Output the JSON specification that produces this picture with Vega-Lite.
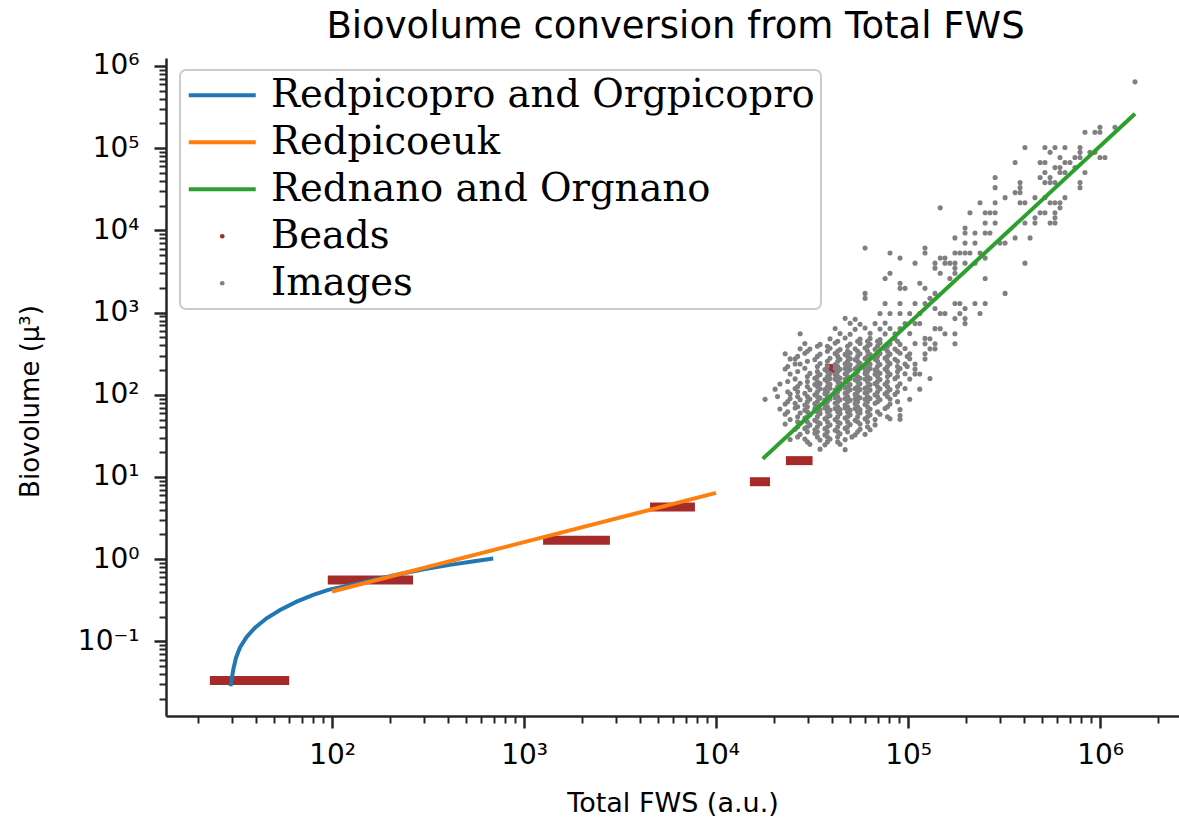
{
"$schema": "https://vega.github.io/schema/vega-lite/v6.json",
"width": 1013,
"height": 658,
"autosize": "none",
"padding": {"left": 166, "top": 58, "right": 0, "bottom": 112},
"background": "white",
"title": {"text": "Biovolume conversion from Total FWS", "font": "DejaVu Sans", "fontSize": 37, "fontWeight": "normal", "color": "#000000", "anchor": "middle", "offset": 16, "baseline": "alphabetic", "dx": 3, "dy": 39},
"config": {
 "view": {"stroke": null},
 "axis": {"domainColor": "#262626", "domainWidth": 2.5, "tickColor": "#262626", "labelFont": "DejaVu Sans", "labelFontSize": 28, "labelColor": "#000000", "titleFont": "DejaVu Sans", "titleFontSize": 26, "titleFontWeight": "normal", "titleColor": "#000000", "grid": false, "labelOverlap": false, "labelFlush": false, "labelBound": false}
},
"datasets": {
 "lines": [
  {"s":"Redpicopro and Orgpicopro","x":29.6,"y":0.0284},
  {"s":"Redpicopro and Orgpicopro","x":30.6,"y":0.0456},
  {"s":"Redpicopro and Orgpicopro","x":31.6,"y":0.0632},
  {"s":"Redpicopro and Orgpicopro","x":33.1,"y":0.0838},
  {"s":"Redpicopro and Orgpicopro","x":35.9,"y":0.1133},
  {"s":"Redpicopro and Orgpicopro","x":39.7,"y":0.1466},
  {"s":"Redpicopro and Orgpicopro","x":45.6,"y":0.191},
  {"s":"Redpicopro and Orgpicopro","x":53.6,"y":0.241},
  {"s":"Redpicopro and Orgpicopro","x":65.4,"y":0.304},
  {"s":"Redpicopro and Orgpicopro","x":79.8,"y":0.367},
  {"s":"Redpicopro and Orgpicopro","x":95.6,"y":0.423},
  {"s":"Redpicopro and Orgpicopro","x":140,"y":0.515},
  {"s":"Redpicopro and Orgpicopro","x":226,"y":0.661},
  {"s":"Redpicopro and Orgpicopro","x":300,"y":0.751},
  {"s":"Redpicopro and Orgpicopro","x":411,"y":0.852},
  {"s":"Redpicopro and Orgpicopro","x":550,"y":0.945},
  {"s":"Redpicopro and Orgpicopro","x":691,"y":1.018},
  {"s":"Redpicoeuk","x":100,"y":0.404},
  {"s":"Redpicoeuk","x":10000,"y":6.41},
  {"s":"Rednano and Orgnano","x":17500,"y":16.6},
  {"s":"Rednano and Orgnano","x":1520000,"y":262000}
 ],
 "beads": [
  {"x":23.1,"x2":59.8,"y":0.0334},
  {"x":95,"x2":264,"y":0.558},
  {"x":1256,"x2":2800,"y":1.70},
  {"x":4530,"x2":7760,"y":4.32},
  {"x":15000,"x2":19100,"y":8.75},
  {"x":23100,"x2":31800,"y":15.8},
  {"x":36900,"x2":42400,"y":209}
 ],
 "img": [
  {"x":47000,"y":850},{"x":53000,"y":830},
  {"x":49900,"y":740},{"x":56200,"y":720},{"x":75900,"y":745},
  {"x":41700,"y":640},{"x":53000,"y":625},{"x":59700,"y":650},{"x":71400,"y":630},{"x":80500,"y":640},
  {"x":44200,"y":555},{"x":49900,"y":545},{"x":63400,"y":560},{"x":75900,"y":550},{"x":102000,"y":555},
  {"x":39200,"y":480},{"x":47000,"y":490},{"x":56200,"y":475},{"x":63400,"y":485},{"x":71400,"y":470},{"x":85500,"y":480},{"x":122500,"y":485},
  {"x":29000,"y":420},{"x":34800,"y":410},{"x":41700,"y":425},{"x":49900,"y":415},{"x":56200,"y":420},{"x":63400,"y":412},{"x":71400,"y":425},{"x":80500,"y":418},{"x":90800,"y":410},{"x":108700,"y":420},
  {"x":30800,"y":360},{"x":39200,"y":368},{"x":44200,"y":355},{"x":53000,"y":362},{"x":59700,"y":370},{"x":67300,"y":358},{"x":75900,"y":365},{"x":85500,"y":360},{"x":96400,"y":366},{"x":130000,"y":362},
  {"x":22900,"y":315},{"x":29000,"y":320},{"x":34800,"y":312},{"x":41700,"y":318},{"x":47000,"y":310},{"x":49900,"y":322},{"x":56200,"y":315},{"x":63400,"y":308},{"x":71400,"y":318},{"x":80500,"y":312},{"x":90800,"y":320},
  {"x":25800,"y":273},{"x":32700,"y":268},{"x":39200,"y":278},{"x":44200,"y":270},{"x":49900,"y":275},{"x":53000,"y":268},{"x":59700,"y":276},{"x":67300,"y":271},{"x":75900,"y":279},{"x":85500,"y":270},{"x":102000,"y":274},{"x":122500,"y":272},
  {"x":27400,"y":237},{"x":34800,"y":240},{"x":41700,"y":233},{"x":47000,"y":238},{"x":49900,"y":232},{"x":56200,"y":241},{"x":63400,"y":236},{"x":71400,"y":233},{"x":80500,"y":239},{"x":96400,"y":236},
  {"x":22900,"y":206},{"x":29000,"y":210},{"x":36900,"y":203},{"x":41700,"y":208},{"x":44200,"y":204},{"x":47000,"y":209},{"x":49900,"y":202},{"x":53000,"y":207},{"x":56200,"y":211},{"x":59700,"y":204},{"x":63400,"y":208},{"x":67300,"y":201},{"x":75900,"y":206},{"x":90800,"y":209},{"x":108700,"y":205},
  {"x":24300,"y":179},{"x":30800,"y":182},{"x":34800,"y":176},{"x":39200,"y":181},{"x":41700,"y":177},{"x":47000,"y":180},{"x":53000,"y":175},{"x":59700,"y":182},{"x":67300,"y":178},{"x":71400,"y":183},{"x":80500,"y":177},{"x":96400,"y":180},
  {"x":25800,"y":156},{"x":32700,"y":159},{"x":36900,"y":153},{"x":39200,"y":158},{"x":41700,"y":155},{"x":44200,"y":160},{"x":47000,"y":154},{"x":49900,"y":157},{"x":53000,"y":152},{"x":56200,"y":159},{"x":59700,"y":155},{"x":63400,"y":158},{"x":71400,"y":153},{"x":85500,"y":157},{"x":102000,"y":155},{"x":130000,"y":158},
  {"x":21500,"y":135},{"x":27400,"y":138},{"x":32700,"y":133},{"x":34800,"y":137},{"x":39200,"y":134},{"x":44200,"y":139},{"x":49900,"y":133},{"x":56200,"y":136},{"x":63400,"y":132},{"x":67300,"y":137},{"x":75900,"y":134},{"x":90800,"y":136},
  {"x":20300,"y":117},{"x":25800,"y":119},{"x":30800,"y":115},{"x":34800,"y":118},{"x":36900,"y":116},{"x":39200,"y":120},{"x":41700,"y":114},{"x":44200,"y":118},{"x":47000,"y":121},{"x":49900,"y":115},{"x":53000,"y":119},{"x":56200,"y":116},{"x":59700,"y":120},{"x":63400,"y":114},{"x":71400,"y":118},{"x":80500,"y":116},{"x":96400,"y":119},{"x":115000,"y":117},
  {"x":24300,"y":102},{"x":29000,"y":104},{"x":32700,"y":100},{"x":36900,"y":103},{"x":41700,"y":99},{"x":47000,"y":104},{"x":53000,"y":101},{"x":59700,"y":105},{"x":67300,"y":100},{"x":75900,"y":103},{"x":85500,"y":101},
  {"x":18000,"y":88},{"x":24300,"y":90},{"x":27400,"y":87},{"x":30800,"y":89},{"x":34800,"y":91},{"x":36900,"y":86},{"x":39200,"y":89},{"x":41700,"y":92},{"x":44200,"y":87},{"x":47000,"y":90},{"x":49900,"y":86},{"x":53000,"y":89},{"x":56200,"y":92},{"x":59700,"y":88},{"x":63400,"y":90},{"x":71400,"y":87},{"x":80500,"y":89},{"x":102000,"y":88},
  {"x":22900,"y":77},{"x":25800,"y":79},{"x":29000,"y":75},{"x":32700,"y":78},{"x":36900,"y":76},{"x":41700,"y":79},{"x":47000,"y":75},{"x":53000,"y":78},{"x":59700,"y":76},{"x":67300,"y":79},{"x":80500,"y":77},
  {"x":21500,"y":67},{"x":25800,"y":69},{"x":29000,"y":65},{"x":32700,"y":68},{"x":34800,"y":66},{"x":36900,"y":69},{"x":39200,"y":65},{"x":41700,"y":68},{"x":44200,"y":66},{"x":47000,"y":69},{"x":49900,"y":65},{"x":53000,"y":68},{"x":56200,"y":66},{"x":63400,"y":67},{"x":75900,"y":68},{"x":90800,"y":66},
  {"x":22900,"y":58},{"x":27400,"y":60},{"x":30800,"y":57},{"x":34800,"y":59},{"x":39200,"y":56},{"x":44200,"y":59},{"x":49900,"y":57},{"x":56200,"y":60},{"x":63400,"y":57},{"x":71400,"y":58},{"x":90800,"y":56},
  {"x":24300,"y":50},{"x":29000,"y":52},{"x":32700,"y":49},{"x":36900,"y":51},{"x":41700,"y":50},{"x":47000,"y":52},{"x":53000,"y":49},{"x":59700,"y":51},{"x":67300,"y":50},{"x":80500,"y":51},
  {"x":22900,"y":44},{"x":27400,"y":45},{"x":30800,"y":43},{"x":34800,"y":44.5},{"x":39200,"y":43},{"x":44200,"y":45},{"x":49900,"y":43.5},{"x":56200,"y":44},{"x":67300,"y":43},
  {"x":25800,"y":38},{"x":29000,"y":39},{"x":32700,"y":37.5},{"x":36900,"y":38.5},{"x":41700,"y":37},{"x":47000,"y":39},{"x":56200,"y":38},{"x":63400,"y":37.5},
  {"x":27400,"y":33},{"x":32700,"y":34},{"x":36900,"y":32.5},{"x":44200,"y":33.5},{"x":53000,"y":32.5},{"x":59700,"y":33},
  {"x":24300,"y":28.6},{"x":29000,"y":29},{"x":34800,"y":28.2},{"x":39200,"y":29},{"x":47000,"y":28.5},
  {"x":30800,"y":25},{"x":36900,"y":24.6},{"x":44200,"y":25},
  {"x":34800,"y":21.8},{"x":47000,"y":21.5},
  {"x":27400,"y":553},{"x":27400,"y":362},{"x":24300,"y":273},{"x":25800,"y":237},
  {"x":43000,"y":448},{"x":54600,"y":448},{"x":61500,"y":448},{"x":69300,"y":448},{"x":88100,"y":448},
  {"x":33700,"y":389},{"x":38000,"y":389},{"x":48400,"y":389},{"x":61500,"y":389},{"x":69300,"y":389},{"x":78100,"y":389},
  {"x":29900,"y":338},{"x":38000,"y":338},{"x":43000,"y":338},{"x":48400,"y":338},{"x":54600,"y":338},{"x":61500,"y":338},{"x":78100,"y":338},{"x":88100,"y":338},
  {"x":26600,"y":293},{"x":33700,"y":293},{"x":43000,"y":293},{"x":48400,"y":293},{"x":54600,"y":293},{"x":61500,"y":293},{"x":69300,"y":293},{"x":78100,"y":293},{"x":99000,"y":293},
  {"x":29900,"y":255},{"x":38000,"y":255},{"x":43000,"y":255},{"x":48400,"y":255},{"x":54600,"y":255},{"x":61500,"y":255},{"x":69300,"y":255},{"x":78100,"y":255},{"x":88100,"y":255},
  {"x":23600,"y":221},{"x":33700,"y":221},{"x":38000,"y":221},{"x":43000,"y":221},{"x":48400,"y":221},{"x":54600,"y":221},{"x":61500,"y":221},{"x":69300,"y":221},{"x":78100,"y":221},{"x":88100,"y":221},{"x":99000,"y":221},
  {"x":26600,"y":192},{"x":33700,"y":192},{"x":38000,"y":192},{"x":43000,"y":192},{"x":48400,"y":192},{"x":54600,"y":192},{"x":61500,"y":192},{"x":69300,"y":192},{"x":78100,"y":192},{"x":88100,"y":192},
  {"x":29900,"y":167},{"x":33700,"y":167},{"x":38000,"y":167},{"x":43000,"y":167},{"x":48400,"y":167},{"x":54600,"y":167},{"x":61500,"y":167},{"x":69300,"y":167},{"x":78100,"y":167},{"x":88100,"y":167},
  {"x":23600,"y":145},{"x":29900,"y":145},{"x":33700,"y":145},{"x":38000,"y":145},{"x":43000,"y":145},{"x":48400,"y":145},{"x":54600,"y":145},{"x":61500,"y":145},{"x":69300,"y":145},{"x":78100,"y":145},
  {"x":26600,"y":126},{"x":29900,"y":126},{"x":33700,"y":126},{"x":38000,"y":126},{"x":43000,"y":126},{"x":48400,"y":126},{"x":54600,"y":126},{"x":61500,"y":126},{"x":69300,"y":126},{"x":78100,"y":126},{"x":88100,"y":126},
  {"x":23600,"y":109},{"x":26600,"y":109},{"x":33700,"y":109},{"x":38000,"y":109},{"x":43000,"y":109},{"x":48400,"y":109},{"x":54600,"y":109},{"x":61500,"y":109},{"x":69300,"y":109},{"x":78100,"y":109},{"x":88100,"y":109},
  {"x":20900,"y":95},{"x":26600,"y":95},{"x":29900,"y":95},{"x":33700,"y":95},{"x":38000,"y":95},{"x":43000,"y":95},{"x":48400,"y":95},{"x":54600,"y":95},{"x":61500,"y":95},{"x":69300,"y":95},{"x":78100,"y":95},
  {"x":23600,"y":82.5},{"x":29900,"y":82.5},{"x":33700,"y":82.5},{"x":38000,"y":82.5},{"x":43000,"y":82.5},{"x":48400,"y":82.5},{"x":54600,"y":82.5},{"x":61500,"y":82.5},{"x":69300,"y":82.5},{"x":88100,"y":82.5},
  {"x":26600,"y":71.5},{"x":29900,"y":71.5},{"x":33700,"y":71.5},{"x":38000,"y":71.5},{"x":43000,"y":71.5},{"x":48400,"y":71.5},{"x":54600,"y":71.5},{"x":61500,"y":71.5},{"x":78100,"y":71.5},
  {"x":23600,"y":62},{"x":29900,"y":62},{"x":33700,"y":62},{"x":38000,"y":62},{"x":43000,"y":62},{"x":48400,"y":62},{"x":54600,"y":62},{"x":61500,"y":62},{"x":69300,"y":62},
  {"x":26600,"y":54},{"x":29900,"y":54},{"x":33700,"y":54},{"x":38000,"y":54},{"x":43000,"y":54},{"x":48400,"y":54},{"x":54600,"y":54},{"x":61500,"y":54},{"x":78100,"y":54},
  {"x":26600,"y":47},{"x":29900,"y":47},{"x":33700,"y":47},{"x":38000,"y":47},{"x":43000,"y":47},{"x":48400,"y":47},{"x":54600,"y":47},{"x":61500,"y":47},
  {"x":26600,"y":40.7},{"x":29900,"y":40.7},{"x":33700,"y":40.7},{"x":38000,"y":40.7},{"x":43000,"y":40.7},{"x":48400,"y":40.7},{"x":61500,"y":40.7},
  {"x":29900,"y":35.4},{"x":33700,"y":35.4},{"x":38000,"y":35.4},{"x":43000,"y":35.4},{"x":48400,"y":35.4},{"x":54600,"y":35.4},
  {"x":26600,"y":30.7},{"x":33700,"y":30.7},{"x":38000,"y":30.7},{"x":43000,"y":30.7},{"x":51000,"y":30.7},
  {"x":29900,"y":26.7},{"x":38000,"y":26.7},{"x":43000,"y":26.7},
  {"x":1520000,"y":641000},
  {"x":998000,"y":180000},{"x":998000,"y":156000},{"x":834000,"y":156000},{"x":940000,"y":156000},{"x":1195000,"y":180000},
  {"x":406000,"y":102000},{"x":516000,"y":102000},{"x":582000,"y":102000},{"x":656000,"y":102000},{"x":786000,"y":102000},{"x":786000,"y":89000},
  {"x":549000,"y":89000},{"x":618000,"y":77000},{"x":656000,"y":67000},{"x":697000,"y":67000},{"x":618000,"y":58000},{"x":582000,"y":58000},{"x":656000,"y":50600},{"x":740000,"y":77000},{"x":786000,"y":77000},{"x":740000,"y":58000},
  {"x":885000,"y":89000},{"x":940000,"y":89000},{"x":1060000,"y":77000},{"x":998000,"y":77000},
  {"x":361000,"y":67000},{"x":487000,"y":67000},{"x":516000,"y":67000},
  {"x":834000,"y":50600},
  {"x":516000,"y":50600},{"x":549000,"y":44000},{"x":618000,"y":50600},{"x":582000,"y":38100},{"x":549000,"y":38100},{"x":516000,"y":38100},{"x":487000,"y":44000},
  {"x":284000,"y":44000},{"x":284000,"y":33100},{"x":383000,"y":38100},{"x":383000,"y":33100},{"x":786000,"y":38100},{"x":786000,"y":33100},
  {"x":361000,"y":28800},{"x":320000,"y":25000},{"x":383000,"y":28800},{"x":383000,"y":21700},{"x":406000,"y":21700},
  {"x":237000,"y":21700},{"x":284000,"y":21700},
  {"x":516000,"y":25000},{"x":549000,"y":21700},{"x":582000,"y":21700},{"x":618000,"y":21700},{"x":458000,"y":25000},{"x":656000,"y":25000},
  {"x":487000,"y":16400},{"x":516000,"y":16400},{"x":458000,"y":14200},{"x":582000,"y":16400},{"x":582000,"y":14200},{"x":549000,"y":12300},{"x":618000,"y":18800},{"x":458000,"y":12300},{"x":582000,"y":12300},
  {"x":267000,"y":16400},{"x":284000,"y":12300},{"x":252000,"y":9300},{"x":267000,"y":9300},{"x":210000,"y":16400},{"x":284000,"y":16400},
  {"x":406000,"y":12300},{"x":361000,"y":8100},{"x":432000,"y":8100},{"x":406000,"y":3990},{"x":320000,"y":7000},{"x":301000,"y":7000},
  {"x":252000,"y":16400},{"x":252000,"y":12300},{"x":223000,"y":9300},{"x":198000,"y":10700},{"x":198000,"y":9300},
  {"x":223000,"y":7000},{"x":198000,"y":7000},{"x":175400,"y":8100},{"x":175400,"y":5300},{"x":198000,"y":5300},
  {"x":252000,"y":4600},{"x":252000,"y":2600},{"x":223000,"y":3990},{"x":210000,"y":5300},{"x":237000,"y":5300},{"x":198000,"y":3990},{"x":186000,"y":5300},
  {"x":147000,"y":4600},{"x":155600,"y":4600},{"x":155600,"y":3990},{"x":165000,"y":3990},{"x":175400,"y":3990},{"x":175400,"y":3470},{"x":175400,"y":3010},{"x":165000,"y":2600},{"x":147000,"y":3010},{"x":138100,"y":3470},{"x":138100,"y":3990},
  {"x":122500,"y":6100},{"x":122500,"y":5300},{"x":108700,"y":3990},{"x":90800,"y":4600},{"x":80500,"y":5300},{"x":80500,"y":3010},{"x":75900,"y":2600},{"x":59700,"y":6100},{"x":147000,"y":18800},
  {"x":115000,"y":2270},{"x":122500,"y":1970},{"x":138100,"y":1710},{"x":130000,"y":1490},{"x":122500,"y":1290},{"x":138100,"y":1120},{"x":147000,"y":973},{"x":155600,"y":973},{"x":175400,"y":1290},{"x":186000,"y":1290},{"x":198000,"y":1120},{"x":186000,"y":973},{"x":175400,"y":845},{"x":198000,"y":845},{"x":198000,"y":734},{"x":223000,"y":1290},{"x":252000,"y":1290},{"x":237000,"y":973},{"x":175400,"y":553},{"x":175400,"y":418},
  {"x":320000,"y":1710},
  {"x":90800,"y":2270},{"x":90800,"y":1970},{"x":96400,"y":1970},
  {"x":59700,"y":1710},{"x":59700,"y":1490},
  {"x":75900,"y":1290},{"x":90800,"y":1290},{"x":108700,"y":1290},{"x":115000,"y":973},{"x":108700,"y":734},{"x":96400,"y":734},{"x":90800,"y":637},{"x":85500,"y":553},{"x":67300,"y":734},{"x":71400,"y":973},{"x":80500,"y":973},{"x":90800,"y":973},{"x":102000,"y":973},{"x":115000,"y":734},
  {"x":122500,"y":418},{"x":138100,"y":362},{"x":122500,"y":315},{"x":138100,"y":418},
  {"x":108700,"y":237},{"x":108700,"y":179},{"x":115000,"y":179},
  {"x":155600,"y":553},
  {"x":90800,"y":50.3},
  {"x":147000,"y":637},{"x":138100,"y":637},
  {"x":102000,"y":315},{"x":130000,"y":481}
 ]
},
"layer": [
 {
  "mark": {"type": "rule", "color": "#262626", "strokeWidth": 2.5},
  "encoding": {
   "y": {"datum": 1250300, "type": "quantitative", "scale": {"type": "log", "domain": [0.012359, 1250300], "nice": false}}
  }
 },
 {
  "data": {"name": "beads"},
  "mark": {"type": "rule", "strokeWidth": 9},
  "encoding": {
   "x": {"field": "x", "type": "quantitative", "scale": {"type": "log", "domain": [13.65, 2576000], "nice": false}},
   "x2": {"field": "x2"},
   "y": {"field": "y", "type": "quantitative", "scale": {"type": "log", "domain": [0.012359, 1250300], "nice": false}},
   "color": {"datum": "Beads", "type": "nominal"}
  }
 },
 {
  "data": {"name": "img"},
  "mark": {"type": "point", "filled": true, "shape": "circle", "size": 26, "opacity": 1, "strokeWidth": 0},
  "encoding": {
   "x": {"field": "x", "type": "quantitative", "scale": {"type": "log", "domain": [13.65, 2576000], "nice": false}},
   "y": {"field": "y", "type": "quantitative", "scale": {"type": "log", "domain": [0.012359, 1250300], "nice": false}},
   "color": {"datum": "Images", "type": "nominal"}
  }
 },
 {
  "data": {"name": "lines"},
  "mark": {"type": "line", "strokeWidth": 4},
  "encoding": {
   "x": {"field": "x", "type": "quantitative",
    "scale": {"type": "log", "domain": [13.65, 2576000], "nice": false},
    "axis": {
     "title": "Total FWS (a.u.)",
     "titleFontSize": 27,
     "titleBaseline": "alphabetic",
     "titleY": 95,
     "values": [20,30,40,50,60,70,80,90,100,200,300,400,500,600,700,800,900,1000,2000,3000,4000,5000,6000,7000,8000,9000,10000,20000,30000,40000,50000,60000,70000,80000,90000,100000,200000,300000,400000,500000,600000,700000,800000,900000,1000000,2000000],
     "labelExpr": "abs(log(datum.value)/LN10 - round(log(datum.value)/LN10)) < 0.001 ? ['10⁰','10¹','10²','10³','10⁴','10⁵','10⁶'][round(log(datum.value)/LN10)] : ''",
     "tickSize": {"condition": {"test": "abs(log(datum.value)/LN10 - round(log(datum.value)/LN10)) < 0.001", "value": 12}, "value": 7},
     "tickWidth": {"condition": {"test": "abs(log(datum.value)/LN10 - round(log(datum.value)/LN10)) < 0.001", "value": 2.5}, "value": 2},
     "labelPadding": 13
    }
   },
   "y": {"field": "y", "type": "quantitative",
    "scale": {"type": "log", "domain": [0.012359, 1250300], "nice": false},
    "axis": {
     "title": "Biovolume (μ³)",
     "titleBaseline": "alphabetic",
     "titleX": -128,
     "titleY": 343,
     "values": [0.02,0.03,0.04,0.05,0.06,0.07,0.08,0.09,0.1,0.2,0.3,0.4,0.5,0.6,0.7,0.8,0.9,1,2,3,4,5,6,7,8,9,10,20,30,40,50,60,70,80,90,100,200,300,400,500,600,700,800,900,1000,2000,3000,4000,5000,6000,7000,8000,9000,10000,20000,30000,40000,50000,60000,70000,80000,90000,100000,200000,300000,400000,500000,600000,700000,800000,900000,1000000],
     "labelExpr": "abs(log(datum.value)/LN10 - round(log(datum.value)/LN10)) < 0.001 ? ['10⁻¹','10⁰','10¹','10²','10³','10⁴','10⁵','10⁶'][round(log(datum.value)/LN10)+1] : ''",
     "tickSize": {"condition": {"test": "abs(log(datum.value)/LN10 - round(log(datum.value)/LN10)) < 0.001", "value": 12}, "value": 7},
     "tickWidth": {"condition": {"test": "abs(log(datum.value)/LN10 - round(log(datum.value)/LN10)) < 0.001", "value": 2.5}, "value": 2},
     "labelPadding": 15
    }
   },
   "color": {"field": "s", "type": "nominal",
    "scale": {"domain": ["Redpicopro and Orgpicopro", "Redpicoeuk", "Rednano and Orgnano", "Beads", "Images"], "range": ["#1f77b4", "#ff7f0e", "#2ca02c", "#a52a2a", "#808080"]},
    "legend": {
     "title": null, "orient": "none", "legendX": 14, "legendY": 12, "direction": "vertical",
     "fillColor": "white", "strokeColor": "#cccccc", "cornerRadius": 6, "padding": 6,
     "labelFont": "DejaVu Serif", "labelFontSize": 38.5, "labelColor": "#000000", "labelOffset": 29.5, "labelLimit": 1000,
     "symbolType": "stroke", "symbolSize": 4489, "symbolStrokeWidth": 4, "rowPadding": 8, "symbolOffset": 17,
     "encode": {
      "symbols": {"update": {
       "shape": {"signal": "datum.value === 'Beads' || datum.value === 'Images' ? 'circle' : 'stroke'"},
       "size": {"signal": "datum.value === 'Beads' || datum.value === 'Images' ? 22 : 4489"},
       "strokeWidth": {"signal": "datum.value === 'Beads' || datum.value === 'Images' ? 0 : 4"},
       "fill": {"signal": "datum.value === 'Beads' || datum.value === 'Images' ? scale('color', datum.value) : 'transparent'"},
       "stroke": {"signal": "scale('color', datum.value)"},
       "opacity": {"value": 1}
      }},
      "legend": {"update": {"strokeWidth": {"value": 2}}}
     }
    }
   }
  }
 }
]
}
